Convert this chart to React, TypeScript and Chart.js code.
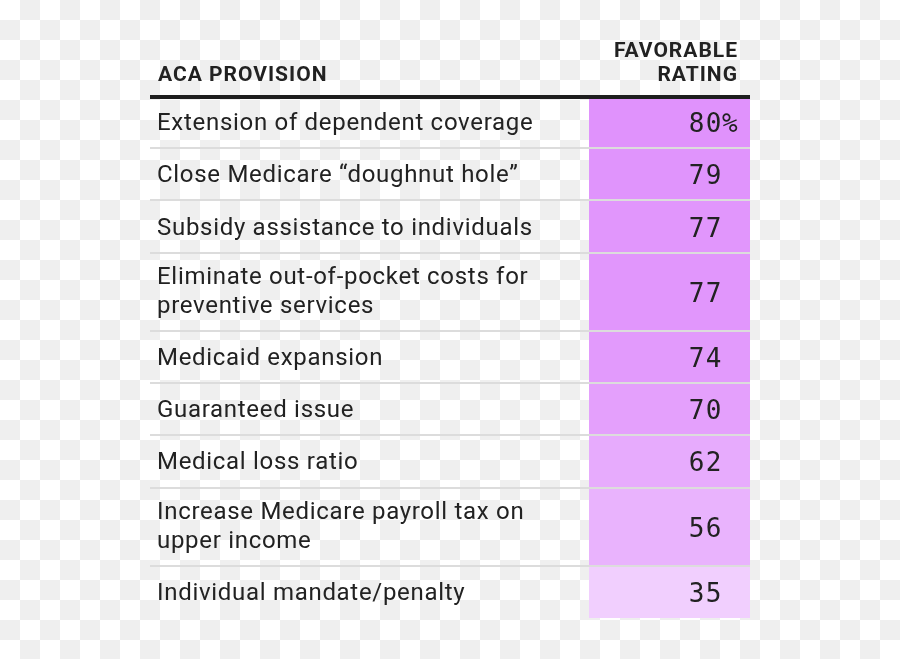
import React, { useEffect, useRef } from 'react';
import { Chart, registerables } from 'chart.js';

Chart.register(...registerables);

// ---- Data ----
const headerLeft = 'ACA PROVISION';
const headerRight = ['FAVORABLE', 'RATING'];

const provisionLines: string[][] = [
  ['Extension of dependent coverage'],
  ['Close Medicare \u201cdoughnut hole\u201d'],
  ['Subsidy assistance to individuals'],
  ['Eliminate out-of-pocket costs for', 'preventive services'],
  ['Medicaid expansion'],
  ['Guaranteed issue'],
  ['Medical loss ratio'],
  ['Increase Medicare payroll tax on', 'upper income'],
  ['Individual mandate/penalty'],
];

const ratings = [80, 79, 77, 77, 74, 70, 62, 56, 35];

// row height units: one-line rows = 1, two-line rows = 1.5
const rowUnits = provisionLines.map((l) => (l.length > 1 ? 1.5 : 1));
const rowSpans: [number, number][] = [];
{
  let acc = 0;
  for (const u of rowUnits) {
    rowSpans.push([acc, acc + u]);
    acc += u;
  }
}
const totalUnits = rowUnits.reduce((a, b) => a + b, 0);

const ratingColor = (v: number) =>
  `rgb(${Math.round(255 - v * 0.39)}, ${Math.round(255 - v * 1.36)}, ${Math.round(255 - v * 0.04)})`;

const TABLE_LEFT = 150;
const TABLE_RIGHT = 750;

const tablePlugin = {
  id: 'tablePlugin',
  beforeDraw(chart: any) {
    const ctx = chart.ctx as CanvasRenderingContext2D;
    const W = chart.width;
    const H = chart.height;
    ctx.save();
    ctx.fillStyle = '#ffffff';
    ctx.fillRect(0, 0, W, H);
    ctx.fillStyle = '#efefef';
    const s = 20;
    for (let j = 0; j * s < H; j++) {
      for (let i = 0; i * s < W; i++) {
        if ((i + j) % 2 === 1) ctx.fillRect(i * s, j * s, s, s);
      }
    }
    ctx.restore();
  },
  afterDatasetsDraw(chart: any) {
    const ctx = chart.ctx as CanvasRenderingContext2D;
    const c = ctx as any;
    const y = chart.scales.y;
    const area = chart.chartArea;
    ctx.save();

    // row separators
    ctx.fillStyle = '#dcdcdc';
    for (let i = 1; i < rowSpans.length; i++) {
      const py = y.getPixelForValue(rowSpans[i][0]);
      ctx.fillRect(TABLE_LEFT, Math.round(py) - 1, TABLE_RIGHT - TABLE_LEFT, 2);
    }

    // thick top rule
    ctx.fillStyle = '#1e1e1e';
    ctx.fillRect(TABLE_LEFT, Math.round(area.top) - 1, TABLE_RIGHT - TABLE_LEFT, 4);

    // headers
    ctx.fillStyle = '#222222';
    ctx.font = 'bold 21px Roboto';
    c.letterSpacing = '1px';
    ctx.textBaseline = 'alphabetic';
    ctx.textAlign = 'left';
    ctx.fillText(headerLeft, 158, 81);
    ctx.textAlign = 'right';
    ctx.fillText(headerRight[0], 738, 57);
    ctx.fillText(headerRight[1], 738, 81);

    // rows
    chart.data.datasets.forEach((ds: any, i: number) => {
      const meta = chart.getDatasetMeta(i);
      const el = meta.data[0];
      if (!el) return;
      const cy = (el.y + el.base) / 2;
      const lines = provisionLines[i];
      ctx.fillStyle = '#222222';
      ctx.font = '24px Roboto';
      c.letterSpacing = '0.7px';
      ctx.textAlign = 'left';
      if (lines.length === 1) {
        ctx.fillText(lines[0], 157, cy + 8);
      } else {
        ctx.fillText(lines[0], 157, cy - 8);
        ctx.fillText(lines[1], 157, cy + 21);
      }
      // value
      ctx.font = '26px "DejaVu Sans Mono"';
      c.letterSpacing = '1.5px';
      ctx.textAlign = 'right';
      ctx.fillText(String(ratings[i]), 723, cy + 10);
      if (i === 0) {
        ctx.textAlign = 'left';
        ctx.fillText('%', 722, cy + 10);
      }
    });
    c.letterSpacing = '0px';
    ctx.restore();
  },
};

export default function App() {
  const ref = useRef<HTMLCanvasElement | null>(null);

  useEffect(() => {
    if (!ref.current) return;
    const chart = new Chart(ref.current, {
      type: 'bar',
      data: {
        labels: ['rating'],
        datasets: ratings.map((v, i) => ({
          label: provisionLines[i].join(' '),
          data: [rowSpans[i]] as any,
          backgroundColor: ratingColor(v),
          borderWidth: 0,
          grouped: false,
          barPercentage: 1,
          categoryPercentage: 1,
        })),
      },
      options: {
        responsive: false,
        animation: false,
        devicePixelRatio: 1,
        layout: { padding: { left: 589, right: 150, top: 96, bottom: 41 } },
        plugins: {
          legend: { display: false },
          tooltip: { enabled: false },
          title: { display: false },
        },
        scales: {
          x: { display: false },
          y: { display: false, min: 0, max: totalUnits, reverse: true },
        },
      },
      plugins: [tablePlugin],
    });
    return () => chart.destroy();
  }, []);

  return (
    <div style={{ position: 'absolute', left: 0, top: 0, width: 900, height: 659 }}>
      <canvas ref={ref} width={900} height={659} style={{ display: 'block' }} />
    </div>
  );
}
